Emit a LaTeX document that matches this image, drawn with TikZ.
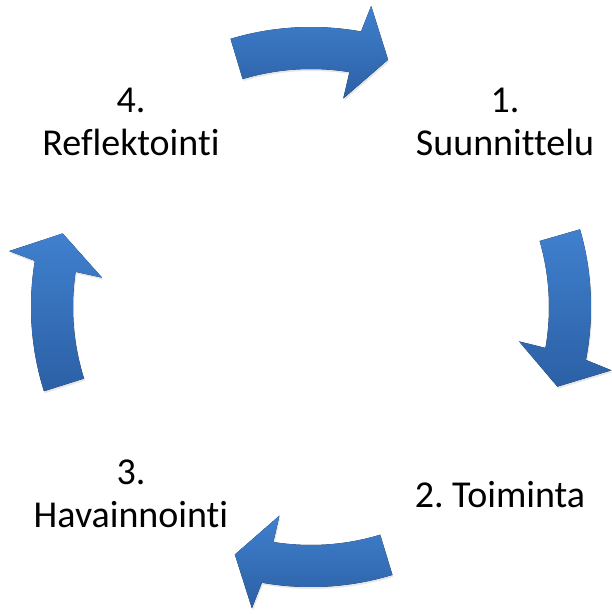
\documentclass[tikz,border=0pt]{standalone}
\usepackage{fontspec}
\setmainfont{Carlito}[Ligatures={NoCommon}]
\usetikzlibrary{shadows}
\frenchspacing

\definecolor{arrowtop}{RGB}{64,128,206}
\definecolor{arrowbottom}{RGB}{43,96,165}

\begin{document}
\begin{tikzpicture}[x=1pt, y=1pt,
    cyclearrow/.style={top color=arrowtop, bottom color=arrowbottom, draw=none,
      drop shadow={shadow xshift=1pt, shadow yshift=-2pt, opacity=0.2}},
    phase/.style={font=\fontsize{38}{43}\selectfont, align=center, inner sep=0pt}]
  \useasboundingbox (0,0) rectangle (612,614);

  % Center of the cycle
  \coordinate (c) at (311,307);

  % Curved arrows, one per step
  \foreach \a in {106.7, 16.1, -73.1, -162.5} {
    \fill[cyclearrow, shift={(c)}] (\a:280) arc[start angle=\a, end angle=\a-27, radius=280]
      -- ({\a-28}:307) -- ({\a-34}:259) -- ({\a-25.5}:211) -- ({\a-26}:238)
      arc[start angle=\a-26, end angle=\a, radius=238] -- cycle;
  }

  % Step labels (base = last line)
  \node[phase, anchor=base] (suunnittelu) at (505,458) {1.\\Suunnittelu};
  \node[phase, anchor=base] (toiminta) at (500,106) {2. Toiminta};
  \node[phase, anchor=base] (havainnointi) at (131,86) {3.\\Havainnointi};
  \node[phase, anchor=base] (reflektointi) at (131,458) {4.\\Reflektointi};

\end{tikzpicture}
\end{document}
